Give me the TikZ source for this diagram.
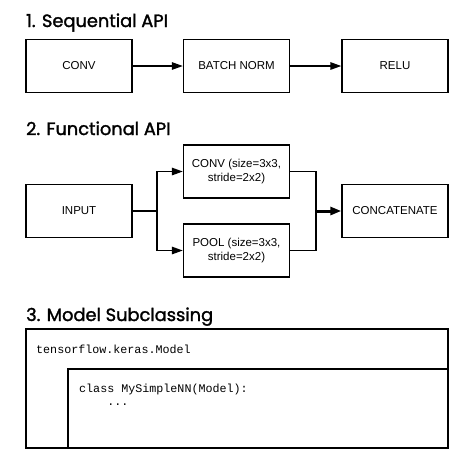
\documentclass[tikz,border=0pt]{standalone}
\usepackage{fontspec}
\setmainfont{Liberation Sans}
\setmonofont{Liberation Mono}
\newfontfamily\titlefont{Poppins}[FakeBold=1.6]
\usetikzlibrary{arrows.meta, calc}

\begin{document}
\begin{tikzpicture}[x=1pt, y=-1pt,
        layer/.style={draw, line width=1.4pt, minimum width=106pt, minimum height=53pt,
            align=center, font=\fontsize{11.5}{14}\selectfont},
        heading/.style={anchor=base west, inner sep=0pt, font=\titlefont\fontsize{17.8}{22}\selectfont},
        code/.style={anchor=base west, inner sep=0pt, font=\ttfamily\fontsize{11.7}{14}\selectfont},
        link/.style={line width=1.4pt, -{Triangle[length=11pt, width=7.5pt]}},
        wire/.style={line width=1.4pt},
        fatlink/.style={line width=3pt, -{Triangle[length=11pt, width=8pt]}}]
        \useasboundingbox (0, 0) rectangle (474, 464);

        % 1. sequential
        \node[heading] (seqtitle) at (26, 27) {1. Sequential API};
        \node[layer] (conv) at (79, 66) {CONV};
        \node[layer] (bn) at (236.5, 66) {BATCH NORM};
        \node[layer] (relu) at (395, 66) {RELU};

        \draw[link] (conv) -- (bn);
        \draw[link] (bn) -- (relu);

        % 2. functional
        \node[heading] (funtitle) at (26, 135) {2. Functional API};
        \node[layer] (input) at (79, 211) {INPUT};
        \node[layer] (convb) at (236.5, 171.5) {CONV (size=3x3,\\ stride=2x2)};
        \node[layer] (pool) at (236.5, 250.5) {POOL (size=3x3,\\ stride=2x2)};
        \node[layer] (concat) at (395, 211) {CONCATENATE};

        \coordinate (split) at (157, 211);
        \coordinate (join) at (316, 211);

        \draw[wire] (input) -- (split);
        \draw[link] (split) |- (convb);
        \draw[link] (split) |- (pool);
        \draw[wire] (convb) -| (join);
        \draw[wire] (pool) -| (join);
        \draw[fatlink] (join) -- (concat);

        % 3. subclassing
        \node[heading] (subtitle) at (26, 321) {3. Model Subclassing};
        \draw[wire] (26, 329) rectangle (448, 448);
        \draw[wire] (68, 369) rectangle (448, 448);
        \node[code] (base) at (36, 353) {tensorflow.keras.Model};
        \node[code] (cls) at (79, 392) {class MySimpleNN(Model):};
        \node[code] (dots) at (79, 405) {\ \ \ \ ...};

    \end{tikzpicture}
\end{document}
